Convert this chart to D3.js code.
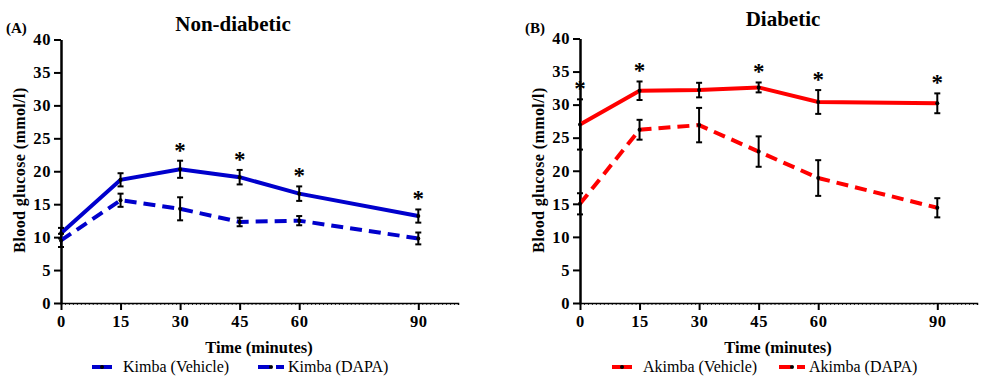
<!DOCTYPE html>
<html>
<head>
<meta charset="utf-8">
<script src="https://cdn.jsdelivr.net/npm/d3@7"></script>
<style>
  body { margin: 0; background: #fff; }
  svg text { font-family: "Liberation Serif", "Times New Roman", serif; }
</style>
</head>
<body>
<script>
// time points (minutes)
const times = [0, 15, 30, 45, 60, 90];

// Non-diabetic (Kimba)
const kimbaVehicle = [10.6, 18.7, 20.3, 19.1, 16.6, 13.2];
const kimbaVehicleErr = [0.8, 1.0, 1.3, 1.1, 1.1, 1.0];
const kimbaDapa = [9.5, 15.6, 14.3, 12.3, 12.5, 9.8];
const kimbaDapaErr = [1.0, 1.0, 1.75, 0.65, 0.7, 0.9];
const sigA = [30, 45, 60, 90];

// Diabetic (Akimba)
const akimbaVehicle = [27.0, 32.1, 32.2, 32.6, 30.4, 30.2];
const akimbaVehicleErr = [3.8, 1.4, 1.1, 0.75, 1.8, 1.5];
const akimbaDapa = [15.0, 26.2, 26.9, 22.9, 18.9, 14.4];
const akimbaDapaErr = [1.6, 1.5, 2.6, 2.3, 2.7, 1.45];
const sigB = [0, 15, 45, 60, 90];

const xTicks = [0, 15, 30, 45, 60, 90];
const yTicks = [0, 5, 10, 15, 20, 25, 30, 35, 40];

const width = 994, height = 384;

const svg = d3.select("body").append("svg")
  .attr("width", width)
  .attr("height", height);

function drawPanel(opt) {
  const x = d3.scaleLinear().domain([0, 100]).range([opt.left, opt.left + 397]);
  const y = d3.scaleLinear().domain([0, 40]).range([303, opt.top]);
  const g = svg.append("g");

  // minor ticks on x axis (every minute)
  const minor = d3.axisBottom(x).tickValues(d3.range(0, 101, 1)).tickSize(2).tickFormat("");
  g.append("g").attr("transform", `translate(0,303)`).call(minor)
    .call(s => s.select(".domain").attr("stroke-width", 1.5))
    .call(s => s.selectAll(".tick line").attr("stroke-width", 0.8));

  // major x ticks
  g.append("g").attr("transform", `translate(0,303)`)
    .call(d3.axisBottom(x).tickValues(xTicks).tickSize(7).tickPadding(5).tickFormat(d3.format("d")))
    .call(s => s.select(".domain").remove())
    .call(s => s.selectAll(".tick line").attr("stroke-width", 2))
    .call(s => s.selectAll("text").attr("font-size", 16.5).attr("font-weight", "bold")
      .attr("fill", "#000").attr("letter-spacing", 0.6));

  // y axis
  g.append("g").attr("transform", `translate(${opt.left},0)`)
    .call(d3.axisLeft(y).tickValues(yTicks).tickSize(7).tickSizeOuter(0).tickPadding(3))
    .call(s => s.select(".domain").attr("stroke-width", 2.5))
    .call(s => s.selectAll(".tick line").attr("stroke-width", 2))
    .call(s => s.selectAll("text").attr("font-size", 16.5).attr("font-weight", "bold")
      .attr("fill", "#000").attr("letter-spacing", 0.6));

  const line = d3.line().x((d, i) => x(times[i])).y(d => y(d));

  opt.series.forEach(sr => {
    g.append("path")
      .datum(sr.values)
      .attr("d", line)
      .attr("fill", "none")
      .attr("stroke", opt.color)
      .attr("stroke-width", 4)
      .attr("stroke-dasharray", sr.dashed ? "12,7" : null);

    // error bars
    const eb = g.append("g").selectAll("g").data(sr.values).join("g");
    eb.append("line")
      .attr("x1", (d, i) => x(times[i])).attr("x2", (d, i) => x(times[i]))
      .attr("y1", (d, i) => y(d - sr.err[i])).attr("y2", (d, i) => y(d + sr.err[i]))
      .attr("stroke", "#000").attr("stroke-width", 2);
    [-1, 1].forEach(sgn => {
      eb.append("line")
        .attr("x1", (d, i) => x(times[i]) - 3).attr("x2", (d, i) => x(times[i]) + 3)
        .attr("y1", (d, i) => y(d + sgn * sr.err[i])).attr("y2", (d, i) => y(d + sgn * sr.err[i]))
        .attr("stroke", "#000").attr("stroke-width", 2);
    });
    eb.append("circle")
      .attr("cx", (d, i) => x(times[i])).attr("cy", d => y(d))
      .attr("r", 2).attr("fill", "#000");
  });

  // significance stars over the upper series
  const top = opt.series[0];
  g.selectAll(".star").data(opt.sig).join("text")
    .attr("class", "star")
    .attr("x", t => x(t))
    .attr("y", t => { const i = times.indexOf(t); return y(top.values[i] + top.err[i]) - 3; })
    .attr("text-anchor", "middle")
    .attr("font-size", 23)
    .attr("font-weight", "bold")
    .text("*");

  // titles / labels
  svg.append("text").attr("x", opt.tagX).attr("y", 33)
    .attr("font-size", 15).attr("font-weight", "bold").text(opt.tag);
  svg.append("text").attr("x", opt.titleX).attr("y", opt.titleY)
    .attr("text-anchor", "middle").attr("font-size", 21).attr("font-weight", "bold").text(opt.title);
  svg.append("text")
    .attr("transform", `translate(${opt.left - 36},170) rotate(-90)`)
    .attr("text-anchor", "middle").attr("font-size", 16).attr("font-weight", "bold")
    .attr("letter-spacing", 0.4)
    .text("Blood glucose (mmol/l)");
  svg.append("text").attr("x", opt.left + 198).attr("y", 353)
    .attr("text-anchor", "middle").attr("font-size", 16.5).attr("font-weight", "bold")
    .text("Time (minutes)");

  // legend
  opt.series.forEach((sr, k) => {
    const lx = opt.legendX[k];
    const lg = svg.append("g");
    lg.append("line").attr("x1", lx).attr("x2", lx + (sr.dashed ? 26 : 20))
      .attr("y1", 367).attr("y2", 367)
      .attr("stroke", opt.color).attr("stroke-width", 4)
      .attr("stroke-dasharray", sr.dashed ? "12,6" : null);
    lg.append("circle").attr("cx", lx + (sr.dashed ? 13 : 10)).attr("cy", 367).attr("r", 2).attr("fill", "#000");
    lg.append("text").attr("x", lx + (sr.dashed ? 30 : 31)).attr("y", 372)
      .attr("font-size", 16).text(sr.name);
  });
}

drawPanel({
  left: 61, top: 39.5, color: "#0000cc",
  tag: "(A)", tagX: 6, title: "Non-diabetic", titleX: 233, titleY: 31,
  sig: sigA, legendX: [92, 258],
  series: [
    { name: "Kimba (Vehicle)", values: kimbaVehicle, err: kimbaVehicleErr, dashed: false },
    { name: "Kimba (DAPA)", values: kimbaDapa, err: kimbaDapaErr, dashed: true }
  ]
});

drawPanel({
  left: 580, top: 38.5, color: "#ff0000",
  tag: "(B)", tagX: 525, title: "Diabetic", titleX: 783, titleY: 26,
  sig: sigB, legendX: [612, 779],
  series: [
    { name: "Akimba (Vehicle)", values: akimbaVehicle, err: akimbaVehicleErr, dashed: false },
    { name: "Akimba (DAPA)", values: akimbaDapa, err: akimbaDapaErr, dashed: true }
  ]
});
</script>
</body>
</html>
